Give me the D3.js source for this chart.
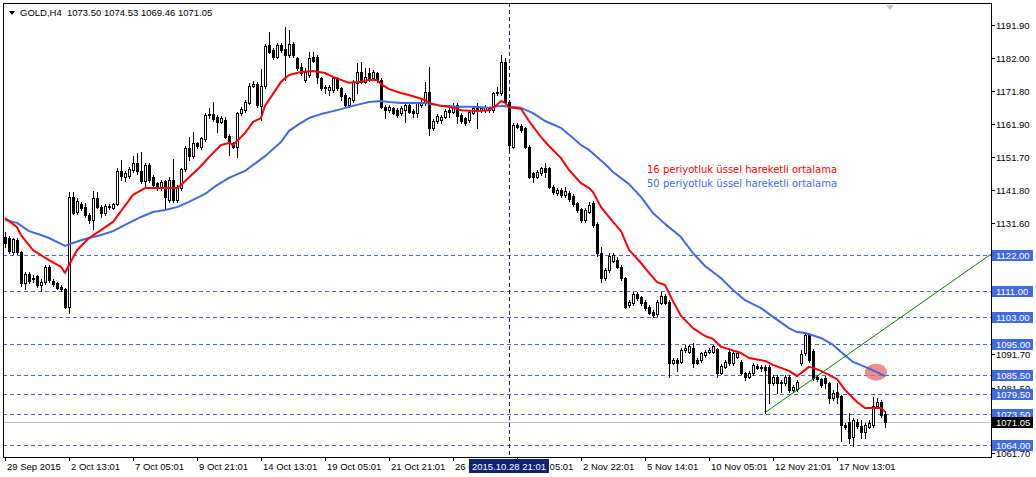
<!DOCTYPE html>
<html><head><meta charset="utf-8">
<script src="https://cdn.jsdelivr.net/npm/d3@7"></script>
<style>html,body{margin:0;padding:0;background:#fff;} svg{display:block;}</style>
</head><body>
<svg id="c" width="1036" height="477"></svg>
<script>
// ---------------- data ----------------
const symbol = "GOLD,H4";
const opens = [1127.5,1127.0,1122.8,1126.5,1122.8,1113.3,1116.2,1115.0,1115.4,1112.8,1113.8,1118.4,1114.1,1113.3,1112.3,1111.5,1106.2,1139.7,1135.1,1137.5,1136.6,1134.1,1132.6,1139.2,1136.6,1134.8,1136.8,1136.3,1137.4,1147.5,1145.8,1146.0,1147.8,1150.0,1147.5,1144.4,1149.3,1145.8,1143.7,1142.2,1144.4,1138.7,1144.8,1138.7,1142.2,1148.0,1154.6,1151.9,1155.9,1154.7,1157.1,1164.5,1164.8,1164.0,1162.5,1163.0,1158.1,1155.9,1154.7,1165.0,1166.0,1168.3,1173.4,1174.0,1167.3,1173.2,1185.8,1184.3,1182.3,1185.8,1184.5,1182.8,1186.0,1181.8,1179.2,1175.2,1176.7,1182.3,1182.3,1175.7,1173.1,1172.1,1172.1,1175.4,1172.6,1170.6,1167.6,1169.1,1174.2,1177.7,1174.7,1177.4,1175.7,1177.2,1175.2,1167.1,1166.0,1166.6,1166.0,1165.0,1166.0,1167.6,1165.7,1165.0,1167.6,1168.1,1171.6,1160.5,1162.7,1163.0,1164.0,1166.0,1165.5,1167.6,1164.5,1163.5,1163.0,1165.2,1166.6,1166.0,1166.0,1166.6,1166.0,1171.1,1171.1,1180.7,1168.6,1154.9,1161.5,1161.2,1160.5,1154.9,1146.8,1145.8,1146.8,1148.3,1148.3,1142.7,1140.7,1141.7,1140.2,1140.9,1139.9,1137.6,1135.8,1132.6,1135.1,1137.9,1131.4,1122.6,1114.8,1117.4,1120.2,1120.4,1118.4,1114.8,1106.7,1107.2,1110.1,1109.1,1107.7,1106.2,1104.7,1103.9,1107.4,1109.5,1107.7,1089.2,1090.0,1089.5,1093.0,1092.5,1093.6,1090.0,1090.0,1091.5,1092.5,1092.5,1093.2,1086.1,1088.0,1092.5,1089.0,1091.0,1089.5,1085.9,1084.9,1085.9,1088.2,1087.7,1088.0,1088.0,1082.9,1084.9,1083.4,1082.9,1084.9,1080.9,1081.1,1089.2,1092.0,1097.6,1092.8,1084.9,1084.1,1084.4,1082.9,1078.4,1080.4,1078.9,1070.2,1071.2,1066.7,1071.2,1069.9,1068.2,1069.7,1070.2,1076.0,1077.3,1073.50];
const highs = [1129.0,1127.7,1127.2,1127.0,1123.3,1116.9,1116.8,1115.8,1116.0,1114.5,1118.8,1119.0,1114.6,1113.8,1112.8,1112.0,1141.2,1141.2,1139.2,1138.0,1137.9,1134.6,1141.5,1141.2,1137.1,1137.4,1137.3,1137.9,1148.3,1150.8,1147.5,1148.6,1151.9,1152.9,1153.4,1149.8,1149.8,1146.3,1144.2,1144.7,1144.9,1145.8,1151.0,1143.2,1148.5,1155.1,1157.9,1159.2,1156.4,1157.9,1165.0,1166.6,1168.6,1164.5,1164.2,1164.0,1158.6,1156.4,1165.5,1166.9,1169.1,1174.2,1175.0,1174.5,1178.5,1186.0,1189.7,1184.8,1186.3,1186.3,1191.4,1190.4,1186.8,1182.3,1180.2,1178.7,1183.8,1183.8,1182.8,1176.2,1173.6,1173.6,1176.2,1176.2,1173.1,1171.1,1170.1,1175.2,1180.2,1180.7,1178.7,1178.7,1178.2,1177.7,1175.7,1167.6,1167.6,1167.1,1166.5,1167.3,1168.1,1168.1,1166.2,1168.6,1169.1,1174.7,1179.2,1163.2,1164.7,1164.5,1166.2,1167.6,1168.1,1168.1,1165.0,1164.0,1166.0,1167.1,1168.1,1167.0,1167.6,1167.1,1171.6,1173.1,1182.8,1181.8,1169.1,1162.0,1162.0,1161.7,1161.0,1155.4,1147.3,1147.8,1148.8,1149.8,1148.8,1143.2,1142.2,1142.2,1142.7,1141.4,1140.4,1138.1,1136.3,1136.1,1138.2,1138.4,1131.9,1124.5,1117.9,1122.5,1122.4,1121.4,1118.9,1115.3,1108.2,1110.6,1110.8,1109.6,1108.2,1106.7,1105.2,1108.2,1110.8,1110.0,1108.2,1090.5,1090.5,1093.5,1094.6,1094.6,1095.1,1090.5,1092.5,1093.0,1093.5,1094.6,1093.7,1088.7,1090.0,1093.6,1093.0,1092.5,1090.0,1086.4,1086.6,1089.0,1088.7,1088.5,1088.5,1088.5,1085.4,1085.4,1084.0,1085.4,1085.4,1082.4,1083.9,1093.0,1098.1,1098.1,1093.3,1085.4,1084.6,1085.0,1083.4,1080.9,1082.9,1079.4,1070.7,1073.8,1072.2,1071.9,1071.7,1070.7,1071.7,1078.6,1078.3,1077.8,1074.53];
const lows = [1124.5,1122.4,1122.2,1122.3,1112.5,1111.5,1113.3,1113.8,1112.3,1111.1,1113.2,1113.8,1112.6,1111.6,1111.0,1105.7,1104.2,1134.3,1134.3,1135.6,1133.6,1131.6,1129.7,1136.1,1133.6,1134.2,1135.9,1135.8,1137.0,1144.8,1144.3,1145.5,1147.3,1146.6,1143.9,1142.2,1144.0,1142.7,1141.7,1141.7,1136.1,1138.2,1138.2,1138.2,1141.7,1147.5,1150.8,1151.4,1154.6,1154.2,1156.6,1163.5,1162.7,1159.5,1162.0,1157.4,1152.4,1154.4,1151.7,1164.5,1165.5,1167.8,1172.9,1167.1,1163.0,1172.7,1183.3,1181.5,1181.8,1183.8,1175.2,1182.3,1182.3,1178.2,1176.7,1174.7,1176.0,1180.6,1174.2,1172.1,1171.1,1170.6,1171.6,1172.1,1169.1,1167.1,1167.1,1168.6,1171.1,1174.2,1174.2,1174.9,1175.2,1174.7,1166.6,1163.5,1165.5,1164.7,1164.0,1164.5,1162.5,1165.0,1164.0,1164.0,1167.1,1167.6,1158.4,1160.0,1162.2,1162.0,1163.5,1164.0,1165.2,1162.0,1162.2,1161.5,1162.5,1164.7,1160.5,1165.4,1165.5,1165.5,1165.5,1170.6,1170.6,1168.1,1154.0,1154.4,1160.5,1159.5,1154.4,1145.3,1144.2,1145.3,1146.3,1145.8,1142.2,1140.5,1140.2,1139.7,1139.7,1138.4,1136.9,1135.0,1132.1,1132.1,1134.6,1130.6,1121.6,1113.8,1114.3,1116.9,1119.7,1117.9,1114.3,1105.7,1106.2,1106.7,1108.3,1106.7,1105.2,1103.9,1103.0,1103.4,1106.9,1106.9,1084.9,1088.7,1086.5,1089.0,1092.5,1092.0,1088.0,1088.7,1089.5,1091.0,1092.0,1092.0,1084.9,1085.6,1087.5,1088.5,1088.5,1090.5,1085.6,1083.9,1084.4,1085.4,1087.2,1086.5,1074.0,1076.8,1082.4,1079.9,1080.4,1082.4,1080.4,1080.4,1080.6,1088.5,1091.5,1089.5,1083.9,1083.6,1081.9,1081.4,1076.8,1077.9,1076.8,1065.2,1069.0,1064.6,1063.8,1069.4,1066.2,1066.2,1069.2,1069.7,1075.5,1072.8,1069.46];
const closes = [1125.5,1123.0,1126.7,1122.8,1113.3,1116.2,1114.1,1114.5,1112.8,1113.8,1118.2,1114.3,1113.1,1112.0,1111.5,1106.2,1139.7,1134.8,1138.4,1136.1,1134.1,1132.6,1139.2,1136.6,1134.8,1136.8,1136.4,1137.4,1147.5,1146.0,1147.0,1148.0,1150.0,1147.5,1144.4,1149.3,1144.6,1143.2,1142.7,1144.2,1139.7,1144.8,1138.7,1142.7,1148.0,1154.6,1151.9,1155.9,1155.1,1157.4,1164.5,1164.8,1163.2,1162.5,1163.7,1157.9,1156.4,1154.9,1165.0,1166.3,1168.6,1173.2,1174.0,1167.6,1173.2,1185.5,1183.8,1182.3,1185.8,1184.3,1182.8,1186.0,1182.8,1178.7,1177.2,1177.7,1181.8,1181.1,1176.2,1172.6,1172.6,1173.1,1175.7,1172.6,1170.3,1167.6,1169.6,1174.7,1177.7,1174.7,1176.2,1175.4,1177.7,1175.2,1167.1,1166.0,1167.1,1165.2,1164.5,1166.8,1167.6,1165.5,1165.2,1168.1,1168.6,1171.6,1160.5,1162.7,1164.2,1164.0,1165.7,1165.5,1167.1,1164.2,1162.7,1162.0,1165.5,1166.6,1166.0,1166.5,1167.1,1165.9,1171.1,1171.6,1180.7,1168.6,1155.4,1161.5,1161.0,1160.0,1154.9,1145.8,1145.8,1147.3,1148.3,1147.3,1142.7,1141.2,1141.7,1140.2,1141.5,1138.9,1137.4,1135.6,1132.6,1135.6,1137.2,1131.1,1122.5,1114.8,1117.4,1121.6,1121.9,1118.4,1114.8,1106.2,1107.7,1110.1,1108.8,1107.2,1105.7,1104.4,1103.7,1107.7,1109.5,1107.4,1089.2,1090.0,1089.0,1093.0,1093.5,1094.1,1089.0,1089.2,1092.0,1092.5,1093.0,1094.1,1086.1,1088.2,1089.5,1089.0,1092.0,1092.0,1086.1,1084.9,1086.1,1088.5,1087.7,1088.0,1087.0,1082.9,1084.9,1082.9,1083.1,1084.9,1080.9,1081.9,1083.4,1091.8,1097.6,1090.0,1084.4,1084.1,1082.4,1082.9,1078.4,1079.9,1078.6,1070.2,1069.5,1066.2,1071.7,1069.9,1068.2,1070.2,1070.7,1076.0,1077.3,1073.3,1071.05];

const ema16Bars = [0,3,4,7,9,11,14,15,16,18,21,24,27,29,32,35,40,43,44,49,51,54,56,57,60,62,64,65,69,71,74,77,80,82,84,86,89,91,93,94,96,99,101,105,106,109,111,114,118,121,123,124,125,126,129,131,134,136,139,141,144,146,147,149,152,154,156,159,161,163,165,167,169,172,175,177,179,181,184,186,190,192,196,198,199,201,202,204,208,210,213,215,217,219,220];
const ema16Vals = [1133.2,1130.4,1128.0,1123.4,1121.9,1120.4,1118.3,1116.5,1118.9,1123.4,1127.1,1129.5,1132.0,1135.3,1140.2,1142.3,1142.3,1142.3,1143.2,1149.0,1151.7,1155.4,1156.0,1155.4,1159.0,1162.4,1163.6,1167.3,1174.6,1176.7,1177.6,1177.9,1177.3,1176.1,1175.2,1174.3,1174.6,1175.2,1175.2,1173.9,1172.4,1171.2,1170.6,1169.1,1168.2,1167.3,1167.0,1166.0,1165.7,1166.0,1167.6,1168.8,1168.2,1166.9,1166.4,1162.7,1157.8,1155.1,1151.4,1147.8,1143.8,1142.3,1141.1,1136.5,1132.0,1129.2,1123.5,1119.5,1116.5,1113.7,1112.8,1107.9,1103.4,1099.7,1097.3,1096.4,1094.0,1093.3,1092.1,1090.6,1089.7,1088.5,1086.7,1085.1,1086.0,1087.9,1087.6,1086.7,1084.2,1080.9,1077.2,1075.4,1075.4,1075.4,1074.2];
const ema50Bars = [0,3,6,9,11,15,17,20,24,27,30,34,37,40,43,46,50,53,56,60,63,65,69,71,74,76,79,81,84,86,89,91,94,96,99,105,109,113,117,121,124,126,129,132,135,139,142,144,146,150,152,156,159,162,165,169,172,175,179,182,185,189,192,196,198,200,204,207,209,212,215,218,220];
const ema50Vals = [1132.6,1131.7,1129.2,1128.0,1127.1,1124.7,1125.6,1126.8,1128.0,1129.2,1131.1,1133.5,1135.0,1135.6,1136.5,1138.1,1140.5,1143.2,1145.4,1147.5,1150.2,1152.0,1156.3,1159.7,1162.1,1163.6,1164.8,1165.4,1166.3,1167.0,1167.9,1168.5,1168.8,1168.5,1168.2,1168.2,1167.3,1167.0,1167.0,1166.7,1167.3,1167.0,1166.7,1165.1,1162.7,1160.6,1157.5,1155.4,1153.9,1149.6,1147.2,1143.5,1139.6,1134.7,1131.4,1127.4,1122.5,1118.6,1114.9,1111.3,1108.2,1105.8,1103.1,1099.7,1098.5,1098.2,1096.7,1094.6,1092.4,1089.4,1087.9,1086.3,1085.1];

// visible price-scale labels (others are hidden under the level boxes)
const priceTicks = [1191.90,1182.00,1171.80,1161.90,1151.70,1141.80,1131.60,1091.70,1081.50,1061.70];
const levelPrices = [1122.00,1111.00,1103.00,1095.00,1085.50,1079.50,1073.50,1064.00];
const bidPrice = 1071.05;
const timeTickBars = [0,16,32,48,64,80,96,112,128,144,160,176,192,208];
const timeTickLabels = ["29 Sep 2015","2 Oct 13:01","7 Oct 05:01","9 Oct 21:01","14 Oct 13:01","19 Oct 05:01","21 Oct 21:01","26 Oct 13:01","29 Oct 05:01","2 Nov 22:01","5 Nov 14:01","10 Nov 05:01","12 Nov 21:01","17 Nov 13:01"];
const crossBar = 126, crossLabel = "2015.10.28 21:01";
const trendBars = [190, 246.5], trendPrices = [1074.0, 1122.2];
const markBar = 217.75, markPrice = 1086.3;
const legendLines = ["16 periyotluk üssel hareketli ortalama","50 periyotluk üssel hareketli ortalama"];

// ---------------- drawing ----------------
const W = 1036, H = 477;
const PL = 3, PT = 3, PR = 991, PB = 457;
const AXF = "'Liberation Sans', Arial, sans-serif";
const x = d3.scaleLinear().domain([0, 220]).range([5, 885]);
const y = d3.scaleLinear().domain([1061.70, 1191.90]).range([453, 25]);
const cx = i => Math.round(x(i));
const cy = p => Math.round(y(p));

const svg = d3.select('#c');
svg.append('rect').attr('width', W).attr('height', H).attr('fill', '#fff');
svg.append('defs').append('clipPath').attr('id', 'clip')
  .append('rect').attr('x', PL + 1).attr('y', PT + 1).attr('width', PR - PL - 1).attr('height', PB - PT - 1);
const g = svg.append('g').attr('clip-path', 'url(#clip)');

// horizontal levels
g.selectAll('line.lvl').data(levelPrices).join('line').attr('class', 'lvl')
  .attr('x1', PL).attr('x2', PR).attr('y1', d => cy(d) + 0.5).attr('y2', d => cy(d) + 0.5)
  .attr('stroke', '#4169e1').attr('stroke-width', 1).attr('stroke-dasharray', '4,3')
  .attr('shape-rendering', 'crispEdges');
// bid line
g.append('line').attr('x1', PL).attr('x2', PR).attr('y1', cy(bidPrice) + 0.5).attr('y2', cy(bidPrice) + 0.5)
  .attr('stroke', '#c0c0c0').attr('shape-rendering', 'crispEdges');
// crosshair
g.append('line').attr('x1', cx(crossBar) + 0.5).attr('x2', cx(crossBar) + 0.5).attr('y1', PT).attr('y2', PB)
  .attr('stroke', '#1c2450').attr('stroke-dasharray', '4,3').attr('shape-rendering', 'crispEdges');

// highlight ellipse
g.append('ellipse').attr('cx', x(markBar)).attr('cy', y(markPrice)).attr('rx', 11).attr('ry', 8.5)
  .attr('fill', '#e86a6a').attr('opacity', 0.75);

// candles
const bars = d3.range(opens.length);
g.selectAll('line.wick').data(bars).join('line').attr('class', 'wick')
  .attr('x1', i => cx(i) + 0.5).attr('x2', i => cx(i) + 0.5)
  .attr('y1', i => cy(highs[i])).attr('y2', i => cy(lows[i]) + 1)
  .attr('stroke', '#000').attr('shape-rendering', 'crispEdges');
g.selectAll('rect.body').data(bars).join('rect').attr('class', 'body')
  .attr('x', i => cx(i) - 0.5)
  .attr('y', i => Math.min(cy(opens[i]), cy(closes[i])) + 0.5)
  .attr('width', 2)
  .attr('height', i => Math.max(0, Math.abs(cy(opens[i]) - cy(closes[i]))))
  .attr('fill', i => closes[i] >= opens[i] ? '#fff' : '#000')
  .attr('stroke', '#000').attr('shape-rendering', 'crispEdges');

// EMA lines
const lineGen = d3.line().x(d => x(d[0])).y(d => y(d[1]));
g.append('path').datum(ema50Bars.map((b, k) => [b, ema50Vals[k]])).attr('d', lineGen)
  .attr('fill', 'none').attr('stroke', '#4169e1').attr('stroke-width', 2).attr('stroke-linejoin', 'round');
g.append('path').datum(ema16Bars.map((b, k) => [b, ema16Vals[k]])).attr('d', lineGen)
  .attr('fill', 'none').attr('stroke', '#ff0000').attr('stroke-width', 2).attr('stroke-linejoin', 'round');

// trend line
g.append('line').attr('x1', x(trendBars[0])).attr('y1', y(trendPrices[0]))
  .attr('x2', x(trendBars[1])).attr('y2', y(trendPrices[1]))
  .attr('stroke', '#008000').attr('stroke-width', 1);

// legend texts
const legColors = ['#ff0000', '#4169e1'];
svg.selectAll('text.leg').data(legendLines).join('text').attr('class', 'leg')
  .attr('x', 647).attr('y', (d, k) => 173 + k * 14)
  .attr('fill', (d, k) => legColors[k])
  .attr('font-family', "'DejaVu Sans', Verdana, sans-serif").attr('font-size', 10)
  .text(d => d);

// top-right small triangle
svg.append('path').attr('d', 'M886,5 L894,5 L890,10 Z').attr('fill', '#c8c8c8');

// title
svg.append('path').attr('d', 'M9,11 L15,11 L12,15 Z').attr('fill', '#000');
svg.append('text').attr('x', 20).attr('y', 16)
  .attr('font-family', AXF).attr('font-size', 9.5).attr('fill', '#000')
  .attr('xml:space', 'preserve')
  .text(`${symbol}  ${opens[220].toFixed(2)} ${highs[220].toFixed(2)} ${lows[220].toFixed(2)} ${closes[220].toFixed(2)}`);

// frame
svg.append('rect').attr('x', PL + 0.5).attr('y', PT + 0.5).attr('width', PR - PL).attr('height', PB - PT)
  .attr('fill', 'none').attr('stroke', '#000').attr('shape-rendering', 'crispEdges');

// right axis
const ra = svg.append('g');
ra.selectAll('line.tk').data(priceTicks).join('line').attr('class', 'tk')
  .attr('x1', PR + 1).attr('x2', PR + 4).attr('y1', d => cy(d) + 0.5).attr('y2', d => cy(d) + 0.5)
  .attr('stroke', '#000').attr('shape-rendering', 'crispEdges');
ra.selectAll('text.tk').data(priceTicks).join('text').attr('class', 'tk')
  .attr('x', PR + 5).attr('y', d => cy(d) + 4)
  .attr('font-family', AXF).attr('font-size', 9.5).attr('fill', '#000')
  .text(d => d.toFixed(2));
const boxes = levelPrices.map(p => ({p, fill: '#4169e1'})).concat([{p: bidPrice, fill: '#000'}]);
const bg = ra.selectAll('g.box').data(boxes).join('g').attr('class', 'box');
bg.append('rect').attr('x', PR + 1).attr('y', d => cy(d.p) - 5).attr('width', 41).attr('height', 11)
  .attr('fill', d => d.fill).attr('shape-rendering', 'crispEdges');
bg.append('text').attr('x', PR + 5).attr('y', d => cy(d.p) + 4)
  .attr('font-family', AXF).attr('font-size', 9.5).attr('fill', '#fff')
  .text(d => d.p.toFixed(2));

// bottom axis
const ba = svg.append('g');
ba.selectAll('line.tk').data(timeTickBars).join('line').attr('class', 'tk')
  .attr('x1', i => cx(i) + 0.5).attr('x2', i => cx(i) + 0.5).attr('y1', PB).attr('y2', PB + 4)
  .attr('stroke', '#000').attr('shape-rendering', 'crispEdges');
ba.selectAll('text.tk').data(timeTickBars).join('text').attr('class', 'tk')
  .attr('x', i => cx(i) + 2).attr('y', PB + 13)
  .attr('font-family', AXF).attr('font-size', 9.5).attr('fill', '#000')
  .text((d, k) => timeTickLabels[k]);
ba.append('rect').attr('x', cx(crossBar) - 40).attr('y', PB + 2).attr('width', 80).attr('height', 14)
  .attr('fill', '#0f2370').attr('shape-rendering', 'crispEdges');
ba.append('text').attr('x', cx(crossBar)).attr('y', PB + 13).attr('text-anchor', 'middle')
  .attr('font-family', AXF).attr('font-size', 9.5).attr('fill', '#fff').text(crossLabel);
</script>
</body></html>
